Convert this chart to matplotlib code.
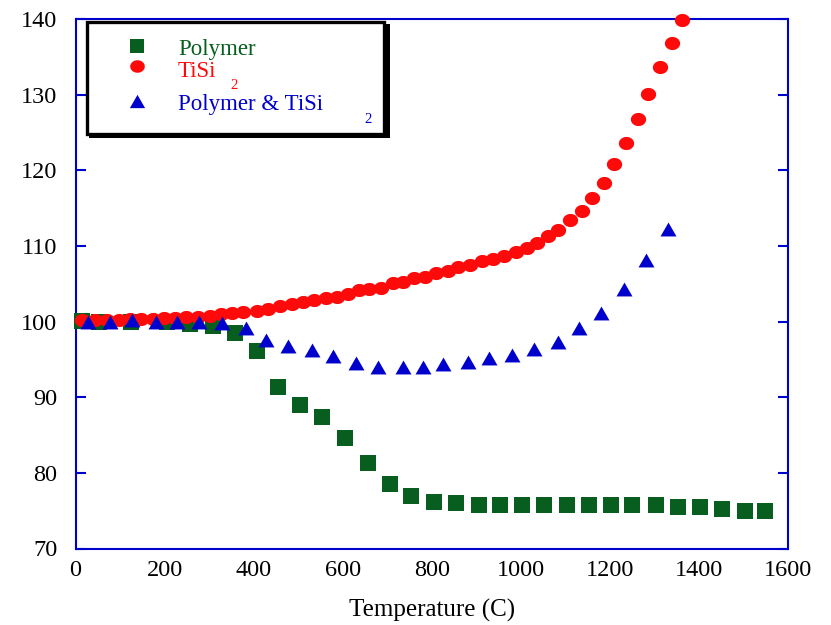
import numpy as np
import matplotlib
matplotlib.use("Agg")
import matplotlib.pyplot as plt
from matplotlib.path import Path
from matplotlib.patches import Rectangle

plt.rcParams['font.family'] = ['Liberation Serif', 'DejaVu Serif']

# Polymer
t_poly = [15, 53, 125, 205, 257, 309, 358, 407, 455, 505, 553, 605, 657, 706,
          753, 806, 855, 905, 954, 1003, 1052, 1104, 1153, 1202, 1250, 1304,
          1354, 1403, 1451, 1503, 1548]
v_poly = [100.1, 100.0, 100.0, 99.9, 99.7, 99.4, 98.45, 96.15, 91.4, 89.0,
          87.4, 84.6, 81.3, 78.5, 77.0, 76.2, 76.0, 75.75, 75.75, 75.75, 75.75,
          75.75, 75.75, 75.75, 75.75, 75.75, 75.55, 75.55, 75.25, 75.0, 75.0]

# TiSi2
t_tisi = [15, 44, 71, 97, 122, 147, 173, 199, 223, 249, 275, 301, 327, 352,
          377, 407, 433, 459, 486, 510, 536, 563, 587, 613, 637, 660, 686, 712,
          735, 760, 785, 809, 836, 860, 886, 912, 937, 963, 989, 1013, 1036,
          1062, 1084, 1111, 1137, 1160, 1186, 1209, 1236, 1263, 1285, 1313,
          1339, 1361]
v_tisi = [100.2, 100.2, 100.27, 100.27, 100.34, 100.34, 100.4, 100.47, 100.47,
          100.6, 100.67, 100.8, 100.94, 101.13, 101.27, 101.4, 101.7, 102.06,
          102.32, 102.63, 102.85, 103.08, 103.25, 103.65, 104.18, 104.31,
          104.48, 105.06, 105.27, 105.8, 105.93, 106.46, 106.73, 107.26, 107.48,
          108.05, 108.31, 108.67, 109.24, 109.69, 110.43, 111.31, 112.1, 113.43,
          114.62, 116.38, 118.36, 120.83, 123.65, 126.82, 130.09, 133.7, 136.87,
          139.87]

# Polymer & TiSi2
t_both = [29, 78, 126, 180, 229, 278, 328, 382, 428, 478, 530, 579, 629, 680,
          735, 780, 826, 881, 929, 980, 1030, 1083, 1131, 1179, 1232, 1281, 1331]
v_both = [100.0, 100.0, 100.2, 100.0, 100.0, 100.0, 99.85, 99.1, 97.56, 96.77,
          96.24, 95.45, 94.56, 93.96, 94.0, 94.0, 94.39, 94.62, 95.15, 95.58,
          96.33, 97.34, 99.11, 101.1, 104.27, 108.14, 112.2]

green = '#075e1e'
red = '#ff0a0a'
blue = '#0000cc'

# slightly flattened dots and wide triangles
ang = np.linspace(0, 2 * np.pi, 60)
dot = Path(np.column_stack([np.cos(ang), 0.86 * np.sin(ang)]), closed=True)
tri = Path([(-1, -0.87), (1, -0.87), (0, 0.87), (-1, -0.87)], closed=True)

W, H = 831, 625
fig = plt.figure(figsize=(W / 100, H / 100), dpi=100)
ax = fig.add_axes([75.5 / W, 1 - 548.5 / H, 712.5 / W, 529.5 / H])

ax.plot(t_poly, v_poly, ls='none', marker='s', ms=11, mew=0, color=green,
        zorder=3, clip_on=False)
ax.plot(t_tisi, v_tisi, ls='none', marker=dot, ms=11, mew=0, color=red,
        zorder=3, clip_on=False)
ax.plot(t_both, v_both, ls='none', marker=tri, ms=11.5, mew=0, color=blue,
        zorder=3, clip_on=False)

ax.set_xlim(0, 1600)
ax.set_ylim(70, 140)
ax.set_xticks(np.arange(0, 1601, 200))
ax.set_yticks(np.arange(70, 141, 10))
for s in ax.spines.values():
    s.set_color(blue)
    s.set_linewidth(1.5)
ax.tick_params(axis='y', direction='in', length=7.5, width=1.5, color=blue,
               left=True, right=True, labelsize=17.5, pad=13)
ax.tick_params(axis='x', length=0, labelsize=17.5, pad=8)
ax.set_xlabel('Temperature (C)', fontsize=18, labelpad=13)


def fp(x, y):
    return x / W, 1 - y / H


# legend box with drop shadow
x0, y0 = fp(88.7, 138.3)
fig.patches.append(Rectangle((x0, y0), (390 - 88.7) / W, (138.3 - 24) / H,
                             transform=fig.transFigure, facecolor='black',
                             edgecolor='none', zorder=5))
x0, y0 = fp(86.7, 133.7)
fig.patches.append(Rectangle((x0, y0), (383.7 - 86.7) / W, (133.7 - 21.7) / H,
                             transform=fig.transFigure, facecolor='white',
                             edgecolor='black', linewidth=2.4, zorder=6))

keys = [('s', 10.5, green, 46), (dot, 10.5, red, 66), (tri, 11, blue, 100.7)]
for m, ms, c, y in keys:
    fig.add_artist(plt.Line2D([136.5 / W], [1 - y / H], ls='none', marker=m,
                              ms=ms, mew=0, color=c, transform=fig.transFigure,
                              zorder=7))

labels = [('Polymer', green, 55), ('TiSi', red, 76.7), ('Polymer & TiSi', blue, 110)]
for s, c, y in labels:
    fig.text(*fp(178, y), s, color=c, fontsize=16.5, va='baseline', zorder=7)
fig.text(*fp(230, 89), '2', color=red, fontsize=10.5, va='baseline', zorder=7)
fig.text(*fp(364, 122.7), '2', color=blue, fontsize=10.5, va='baseline', zorder=7)

fig.savefig('out.png', dpi=100)
